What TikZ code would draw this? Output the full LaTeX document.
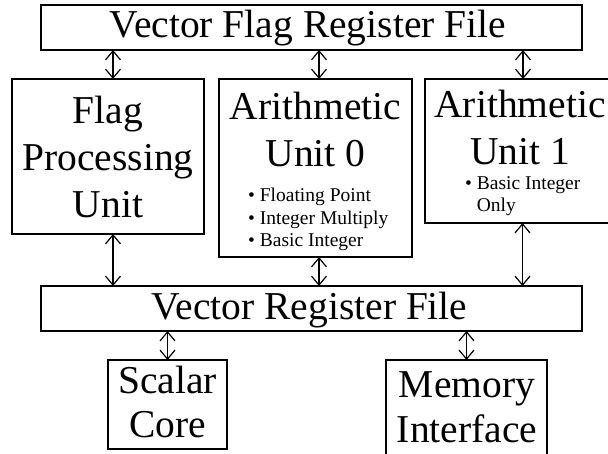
\documentclass[tikz,border=0pt]{standalone}
\usepackage{fontspec}
\setmainfont{Liberation Serif}
\usetikzlibrary{arrows.meta}
\begin{document}
\begin{tikzpicture}[x=1pt,y=-1pt,
  unitbox/.style={draw=black, line width=1.5pt, rectangle, inner sep=0pt, outer sep=0pt},
  bigtext/.style={font=\fontsize{39.5}{47}\selectfont, align=center, inner sep=0pt, anchor=base},
  smalltext/.style={font=\fontsize{19.5}{22.5}\selectfont, align=left, inner sep=0pt, anchor=base west},
  link/.style={line width=1.2pt, line join=miter,
    {Straight Barb[length=9pt,width=15pt]}-{Straight Barb[length=9pt,width=15pt]}}]
\useasboundingbox (0,0) rectangle (608,454);

% register files (multi-line labels sit on the baseline of their last line)
\node[unitbox, minimum width=541pt, minimum height=45pt] (vfrf) at (311.5,27.5) {};
\node[unitbox, minimum width=541pt, minimum height=45pt] (vrf) at (311.5,308.5) {};
\node[bigtext] (vfrf-label) at (308,38) {Vector Flag Register File};
\node[bigtext] (vrf-label) at (309.5,320) {Vector Register File};

% functional units
\node[unitbox, minimum width=192pt, minimum height=155pt] (fpu) at (108,156.5) {};
\node[unitbox, minimum width=193pt, minimum height=178pt] (au0) at (315.5,168) {};
\node[unitbox, minimum width=187pt, minimum height=144pt] (au1) at (518.5,151) {};
\node[bigtext] (fpu-label) at (108,218) {Flag\\Processing\\Unit};
\node[bigtext] (au0-label) at (315.5,167) {Arithmetic\\Unit 0};
\node[bigtext] (au1-label) at (520,165) {Arithmetic\\Unit 1};
\node[smalltext] (au0-list) at (248,247)
  {• Floating Point\\• Integer Multiply\\• Basic Integer};
\node[smalltext] (au1-list) at (465,212)
  {• Basic Integer\\\hphantom{• }Only};

% scalar core and memory
\node[unitbox, minimum width=119pt, minimum height=89pt] (sc) at (167.5,404.5) {};
\node[unitbox, minimum width=161pt, minimum height=100pt] (mi) at (466.5,410) {};
\node[bigtext, font=\fontsize{39.5}{44}\selectfont] (sc-label) at (167.5,437) {Scalar\\Core};
\node[bigtext, font=\fontsize{39.5}{45}\selectfont] (mi-label) at (467,442) {Memory\\Interface};

% data paths
\draw[link] ([xshift=5pt]fpu.north |- vfrf.south) -- ([xshift=5pt]fpu.north);
\draw[link] ([xshift=3.5pt]au0.north |- vfrf.south) -- ([xshift=3.5pt]au0.north);
\draw[link] ([xshift=4.5pt]au1.north |- vfrf.south) -- ([xshift=4.5pt]au1.north);
\draw[link] ([xshift=5pt]fpu.south) -- ([xshift=5pt]fpu.south |- vrf.north);
\draw[link] ([xshift=3.5pt]au0.south) -- ([xshift=3.5pt]au0.south |- vrf.north);
\draw[link] ([xshift=4pt]au1.south) -- ([xshift=4pt]au1.south |- vrf.north);
\draw[link] (sc.north |- vrf.south) -- (sc.north);
\draw[link] (mi.north |- vrf.south) -- (mi.north);
\end{tikzpicture}
\end{document}
